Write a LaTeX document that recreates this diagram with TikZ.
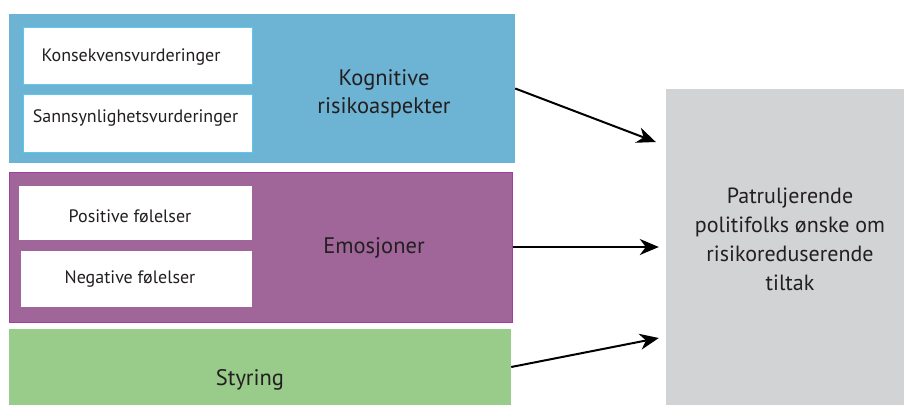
\documentclass[tikz,border=0pt]{standalone}
\usepackage{fontspec}
\setmainfont{PT Sans}
\usetikzlibrary{arrows.meta}
\definecolor{cblue}{HTML}{6DB3D4}
\definecolor{cblueline}{HTML}{5BC8F0}
\definecolor{cpurple}{HTML}{A0669A}
\definecolor{cpurpleline}{HTML}{A03FA0}
\definecolor{cgreen}{HTML}{99CB8A}
\definecolor{cgray}{HTML}{D1D3D4}
\definecolor{ctext}{HTML}{231F20}
\tikzset{
  panel/.style={rectangle, inner sep=0pt, anchor=center},
  subbox/.style={rectangle, fill=white, inner sep=0pt, anchor=center, font=\fontsize{18}{21}\selectfont, text=ctext},
  biglabel/.style={align=center, font=\fontsize{22.5}{28}\selectfont, text=ctext, inner sep=0pt},
  conn/.style={line width=2pt, draw=black, -{Stealth[length=19pt,width=16pt,inset=6pt]}}
}
\begin{document}
\begin{tikzpicture}[x=1pt,y=-1pt]
\useasboundingbox (0,0) rectangle (904,408);
% blue panel
\node[panel, fill=cblue, minimum width=506pt, minimum height=149pt] (blue) at (262,88.5) {};
\node[subbox, draw=cblueline, line width=0.8pt, minimum width=229pt, minimum height=57pt] (konsek) at (137.5,55.5) {};
\node[subbox, inner sep=0pt] (konsektext) at (131,57) {Konsekvensvurderinger};
\node[subbox, draw=cblueline, line width=0.8pt, minimum width=229pt, minimum height=58pt] (sannsyn) at (137.5,123) {};
\node[subbox, inner sep=0pt] (sannsyntext) at (135.5,118) {Sannsynlighetsvurderinger};
\node[biglabel] (kogn) at (384,94) {Kognitive\\risikoaspekter};
% purple panel
\node[panel, fill=cpurple, draw=cpurpleline, line width=1pt, minimum width=503pt, minimum height=150pt] (purple) at (260.5,247) {};
\node[subbox, minimum width=233pt, minimum height=54pt] (pos) at (135.5,213) {};
\node[subbox] (postext) at (130,216) {Positive følelser};
\node[subbox, minimum width=231pt, minimum height=56pt] (neg) at (136.5,279) {};
\node[subbox] (negtext) at (130,279) {Negative følelser};
\node[biglabel] (emo) at (374,248) {Emosjoner};
% green panel
\node[panel, fill=cgreen, minimum width=502pt, minimum height=76pt] (green) at (260,367) {};
\node[biglabel] (styr) at (250,380) {Styring};
% gray panel
\node[panel, fill=cgray, minimum width=238pt, minimum height=316pt] (gray) at (785,247) {};
\node[biglabel, font=\fontsize{22}{29}\selectfont] (ptext) at (790,239) {Patruljerende\\politifolks ønske om\\risikoreduserende\\tiltak};
% arrows
\draw[conn] (blue.east) -- ([xshift=-10pt,yshift=105pt]gray.west);
\draw[conn] (purple.east) -- ([xshift=-7pt]gray.west);
\draw[conn] (green.east) -- ([xshift=-7pt,yshift=-91pt]gray.west);
\end{tikzpicture}
\end{document}
